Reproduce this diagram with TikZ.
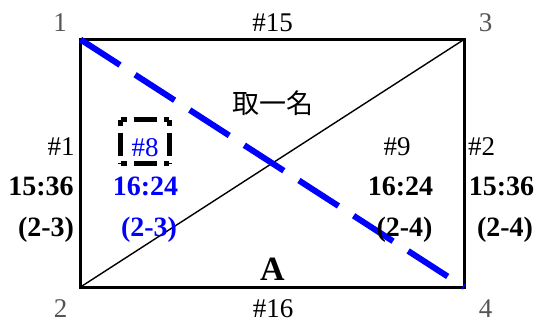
\documentclass[tikz,border=0pt]{standalone}
\usepackage{fontspec}
\setmainfont{Liberation Serif}
\newfontfamily\cjk{Noto Sans CJK TC}
\definecolor{numgray}{RGB}{85,85,85}
\definecolor{pureblue}{RGB}{0,0,255}
\begin{document}
\begin{tikzpicture}[x=1pt,y=-1pt,
  txt/.style={inner sep=0pt,anchor=base,font=\fontsize{27}{32}\selectfont},
  btxt/.style={inner sep=0pt,anchor=base,font=\fontsize{28}{33}\selectfont\bfseries},
  corner/.style={txt,text=numgray},
  frame/.style={line width=3pt},
  thindiag/.style={line width=1.4pt},
  bluedash/.style={draw=pureblue,line width=6pt,dash pattern=on 47pt off 18pt},
  boxside/.style={line width=5pt,dash pattern=on 6pt off 7pt on 23pt off 7pt on 30pt off 1pt}]
\useasboundingbox (0,0) rectangle (539,322);
% corners
\coordinate (c1) at (80.5,39.5);
\coordinate (c3) at (464,39.5);
\coordinate (c2) at (80.5,287);
\coordinate (c4) at (464,287);
\draw[frame] (c1) -- (c3) -- (c4) -- (c2) -- cycle;
\draw[thindiag] (c2) -- (c3);
\draw[bluedash] (c1) -- (c4);
% corner numbers
\node[corner] (n1) at (60,31) {1};
\node[corner] (n3) at (485.5,31) {3};
\node[corner] (n2) at (60.5,317) {2};
\node[corner] (n4) at (485.5,317) {4};
% edge labels
\node[txt] (l15) at (272.5,31.5) {\#15};
\node[txt] (l16) at (273,317) {\#16};
\node[inner sep=0pt,font=\fontsize{27}{32}\selectfont\cjk] (title) at (272.5,103.5) {取一名};
% left outer
\node[txt] (l1) at (61,155) {\#1};
\node[btxt] (t1) at (41,195) {15:36};
\node[btxt] (p1) at (46,236) {(2-3)};
% blue #8
\node[txt,text=pureblue] (l8) at (145,156) {\#8};
\node[btxt,text=pureblue] (t8) at (145.5,195) {16:24};
\node[btxt,text=pureblue] (p8) at (149,236) {(2-3)};
\node[inner sep=0pt,minimum width=48pt,minimum height=43pt] (box8) at (144.8,141.5) {};
\draw[boxside] (box8.north west) -- (box8.north east);
\draw[boxside] (box8.north west) -- (box8.south west);
\draw[boxside] (box8.north east) -- (box8.south east);
\draw[boxside] (box8.south west) -- (box8.south east);
% #9
\node[txt] (l9) at (397,155) {\#9};
\node[btxt] (t9) at (400.5,195) {16:24};
\node[btxt] (p9) at (404.5,236) {(2-4)};
% right outer
\node[txt] (l2) at (481.5,155) {\#2};
\node[btxt] (t2) at (501.5,195) {15:36};
\node[btxt] (p2) at (505,236) {(2-4)};
% A
\node[inner sep=0pt,anchor=base,font=\fontsize{34}{40}\selectfont\bfseries] (A) at (272.5,280) {A};
\end{tikzpicture}
\end{document}
